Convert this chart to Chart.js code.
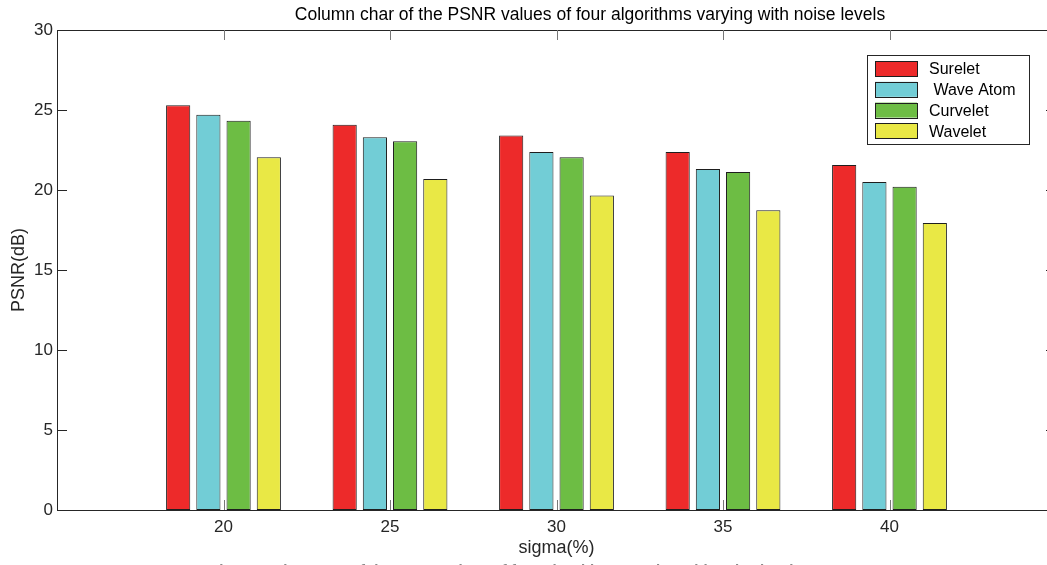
<!DOCTYPE html>
<html>
<head>
<meta charset="utf-8">
<script src="https://cdn.jsdelivr.net/npm/chart.js@4"></script>
<style>
    html, body { margin: 0; padding: 0; overflow: hidden; background: #fff; }
    #wrap { position: relative; width: 1060px; height: 565px; }
</style>
</head>
<body>
<div id="wrap"><canvas id="psnr"></canvas></div>
<script>
// noise levels (sigma, %) and PSNR in dB for each method
const sigmas = [20, 25, 30, 35, 40];
const surelet = [25.3, 24.08, 23.4, 22.38, 21.56];
const waveAtom = [24.7, 23.3, 22.38, 21.32, 20.5];
const curvelet = [24.33, 23.04, 22.04, 21.13, 20.21];
const wavelet = [22.04, 20.68, 19.65, 18.73, 17.94];
const yTicks = [0, 5, 10, 15, 20, 25, 30];

const FONT = '"Liberation Sans", Arial, Helvetica, sans-serif';
const INK = '#262626';

function series(label, values, color) {
    return {
        label: label,
        data: sigmas.map((s, i) => ({x: s, y: values[i]})),
        backgroundColor: color,
        borderColor: '#1e1e1e',
        borderWidth: 1,
        borderSkipped: false,
        categoryPercentage: 0.726,
        barPercentage: 0.8
    };
}

// box, inward ticks, title, legend and caption drawn straight on the canvas
const decorations = {
    id: 'decorations',
    afterDatasetsDraw(chart) {
        const {ctx, chartArea: a, scales: {x, y}} = chart;
        ctx.save();
        ctx.strokeStyle = INK;
        ctx.lineWidth = 1;
        ctx.strokeRect(Math.round(a.left) + 0.5, Math.round(a.top) + 0.5,
            Math.round(a.right - a.left), Math.round(a.bottom - a.top));
        ctx.beginPath();
        yTicks.forEach(v => {
            const py = Math.round(y.getPixelForValue(v)) + 0.5;
            ctx.moveTo(a.left, py); ctx.lineTo(a.left + 10, py);
            ctx.moveTo(a.right - 10, py); ctx.lineTo(a.right, py);
        });
        ctx.stroke();
        ctx.strokeStyle = '#777';
        ctx.beginPath();
        sigmas.forEach(v => {
            const px = Math.round(x.getPixelForValue(v)) + 0.5;
            ctx.moveTo(px, a.bottom); ctx.lineTo(px, a.bottom - 10);
            ctx.moveTo(px, a.top); ctx.lineTo(px, a.top + 10);
        });
        ctx.stroke();
        ctx.restore();
    },
    afterDraw(chart) {
        const ctx = chart.ctx;
        ctx.save();
        ctx.fillStyle = '#000';
        ctx.font = '17.5px ' + FONT;
        ctx.textAlign = 'center';
        ctx.textBaseline = 'middle';
        ctx.fillText('Column char of the PSNR values of four algorithms varying with noise levels', 590, 15);

        // legend
        const lx = 867, ly = 55, lw = 162, lh = 89;
        ctx.fillStyle = '#fff';
        ctx.fillRect(lx, ly, lw, lh);
        ctx.strokeStyle = INK;
        ctx.strokeRect(lx + 0.5, ly + 0.5, lw, lh);
        ctx.textAlign = 'left';
        ctx.font = '16px ' + FONT;
        chart.data.datasets.forEach((ds, i) => {
            const sy = ly + 6 + i * 20.8;
            ctx.fillStyle = ds.backgroundColor;
            ctx.fillRect(875, sy, 42, 15);
            ctx.strokeStyle = '#1e1e1e';
            ctx.strokeRect(875.5, Math.round(sy) + 0.5, 42, 15);
            ctx.fillStyle = '#000';
            ctx.fillText(ds.label, 929, sy + 9);
        });

        // figure caption below the axes
        ctx.fillStyle = '#8a8a8a';
        ctx.font = 'bold 15px ' + FONT;
        ctx.textAlign = 'left';
        ctx.textBaseline = 'alphabetic';
        ctx.fillText('Figure 1 Histogram of the PSNR values of four algorithms varying with noise levels', 210, 575);
        ctx.restore();
    }
};

new Chart(document.getElementById('psnr'), {
    type: 'bar',
    data: {
        datasets: [
            series('Surelet', surelet, '#ED2A2A'),
            series(' Wave Atom', waveAtom, '#72CDD6'),
            series('Curvelet', curvelet, '#6DBD44'),
            series('Wavelet', wavelet, '#E9E845')
        ]
    },
    options: {
        responsive: true,
        maintainAspectRatio: false,
        animation: false,
        layout: {padding: {top: 30, right: 4, left: 0, bottom: 0}},
        plugins: {
            legend: {display: false},
            tooltip: {enabled: false}
        },
        scales: {
            x: {
                type: 'linear',
                min: 15,
                max: 45,
                offset: false,
                afterBuildTicks: s => { s.ticks = sigmas.map(v => ({value: v})); },
                afterFit: s => { s.height = 55; },
                grid: {display: false, drawTicks: false, offset: false},
                border: {display: true, color: INK, width: 1},
                ticks: {color: INK, padding: 7, font: {family: FONT, size: 17}},
                title: {
                    display: true,
                    text: 'sigma(%)',
                    color: INK,
                    font: {family: FONT, size: 18},
                    padding: {top: 0, bottom: 6}
                }
            },
            y: {
                min: 0,
                max: 30,
                afterBuildTicks: s => { s.ticks = yTicks.map(v => ({value: v})); },
                afterFit: s => { s.width = 57; },
                grid: {display: false, drawTicks: false},
                border: {display: true, color: INK, width: 1},
                ticks: {color: INK, padding: 4, font: {family: FONT, size: 17}},
                title: {
                    display: true,
                    text: 'PSNR(dB)',
                    color: INK,
                    font: {family: FONT, size: 18},
                    padding: {top: 8, bottom: 0}
                }
            }
        }
    },
    plugins: [decorations]
});
</script>
</body>
</html>
